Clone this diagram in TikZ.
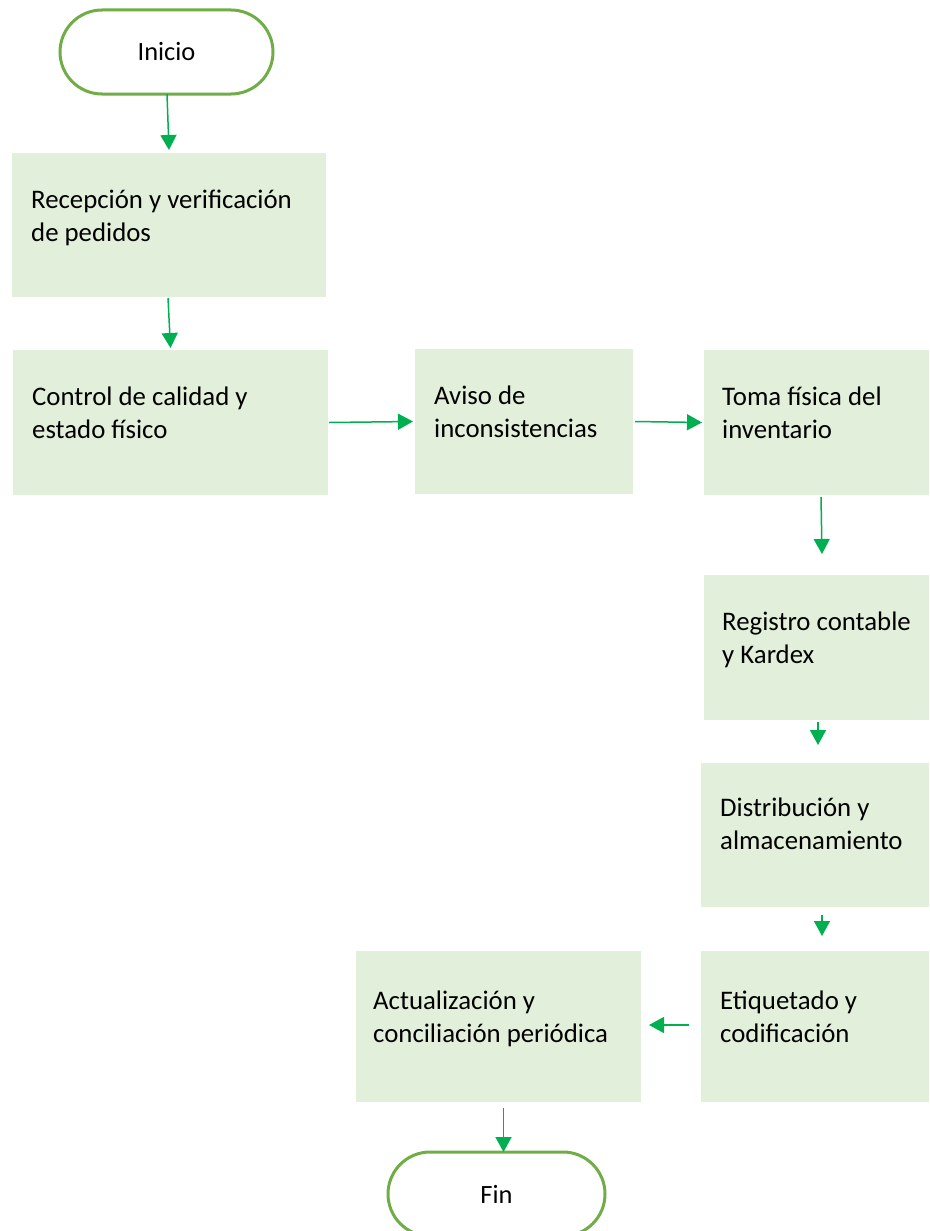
\documentclass[tikz,border=0pt]{standalone}
\usepackage{fontspec}
\setmainfont{Carlito}
\usetikzlibrary{arrows.meta}
\definecolor{boxfill}{HTML}{E2EFDA}
\definecolor{termline}{HTML}{70AD47}
\definecolor{arrowgreen}{HTML}{00B050}
\tikzset{
  stepbox/.style={rectangle, fill=boxfill, draw=none, outer sep=0pt, inner sep=0pt},
  terminal/.style={rectangle, rounded corners=42pt, draw=termline, line width=3pt,
    fill=white, outer sep=0pt, inner sep=0pt, minimum height=84pt,
    font=\fontsize{26.4}{33}\selectfont},
  % the base anchor of a two-line label sits on its second line
  boxtext/.style={anchor=base west, inner sep=0pt, align=left,
    font=\fontsize{26.8}{33}\selectfont},
  flow/.style={draw=arrowgreen, line width=1.5pt,
    -{Triangle[width=16pt,length=15pt]}},
}
\begin{document}
\begin{tikzpicture}[x=1pt,y=-1pt]
  \useasboundingbox (0,0) rectangle (929,1231);
  \clip (0,0) rectangle (929,1231);

  % terminals
  \node[terminal, minimum width=213pt] (ini) at (166.5,52) {Inicio};
  \node[terminal, minimum width=217pt] (fin) at (496.5,1194) {Fin};

  % process boxes
  \node[stepbox, minimum width=314pt, minimum height=144pt] (b1) at (169,225) {};
  \node[stepbox, minimum width=315pt, minimum height=145pt] (b2) at (170.5,422.5) {};
  \node[stepbox, minimum width=218pt, minimum height=145pt] (b3) at (524,421.5) {};
  \node[stepbox, minimum width=225pt, minimum height=145pt] (b4) at (816.5,422.5) {};
  \node[stepbox, minimum width=225pt, minimum height=145pt] (b5) at (816.5,647.5) {};
  \node[stepbox, minimum width=228pt, minimum height=144pt] (b6) at (815,835) {};
  \node[stepbox, minimum width=228pt, minimum height=151pt] (b7) at (815,1026.5) {};
  \node[stepbox, minimum width=285pt, minimum height=151pt] (b8) at (498.5,1026.5) {};

  % box labels
  \node[boxtext] (t1) at ([xshift=19pt,yshift=-88pt]b1.north west) {Recepción y verificación\\de pedidos};
  \node[boxtext] (t2) at ([xshift=19pt,yshift=-88pt]b2.north west) {Control de calidad y\\estado físico};
  \node[boxtext] (t3) at ([xshift=19pt,yshift=-88pt]b3.north west) {Aviso de\\inconsistencias};
  \node[boxtext] (t4) at ([xshift=18pt,yshift=-88pt]b4.north west) {Toma física del\\inventario};
  \node[boxtext] (t5) at ([xshift=18pt,yshift=-88pt]b5.north west) {Registro contable\\y Kardex};
  \node[boxtext] (t6) at ([xshift=19pt,yshift=-86pt]b6.north west) {Distribución y\\almacenamiento};
  \node[boxtext] (t7) at ([xshift=19pt,yshift=-91pt]b7.north west) {Etiquetado y\\codificación};
  \node[boxtext] (t8) at ([xshift=17pt,yshift=-91pt]b8.north west) {Actualización y\\conciliación periódica};

  % connectors
  \draw[flow] ([xshift=0.5pt]ini.south) -- ([yshift=3pt]b1.north);
  \draw[flow] ([xshift=-1pt,yshift=-1pt]b1.south) -- ([yshift=2pt]b2.north);
  \draw[flow] ([xshift=1pt]b2.east) -- ([xshift=-2pt]b3.west);
  \draw[flow] ([xshift=2pt]b3.east) -- ([xshift=-2pt]b4.west);
  \draw[flow] ([xshift=4.5pt,yshift=-2pt]b4.south) -- ([xshift=5.5pt,yshift=21pt]b5.north);
  \draw[flow] ([xshift=1.5pt,yshift=-2pt]b5.south) -- ([xshift=3pt,yshift=18pt]b6.north);
  \draw[flow] ([xshift=7pt,yshift=-8pt]b6.south) -- ([xshift=7pt,yshift=15pt]b7.north);
  \draw[flow] ([xshift=-12pt,yshift=1.5pt]b7.west) -- ([xshift=8pt,yshift=1.5pt]b8.east);
  \draw[flow] ([xshift=5pt,yshift=-6pt]b8.south) -- ([xshift=7pt]fin.north);
\end{tikzpicture}
\end{document}
